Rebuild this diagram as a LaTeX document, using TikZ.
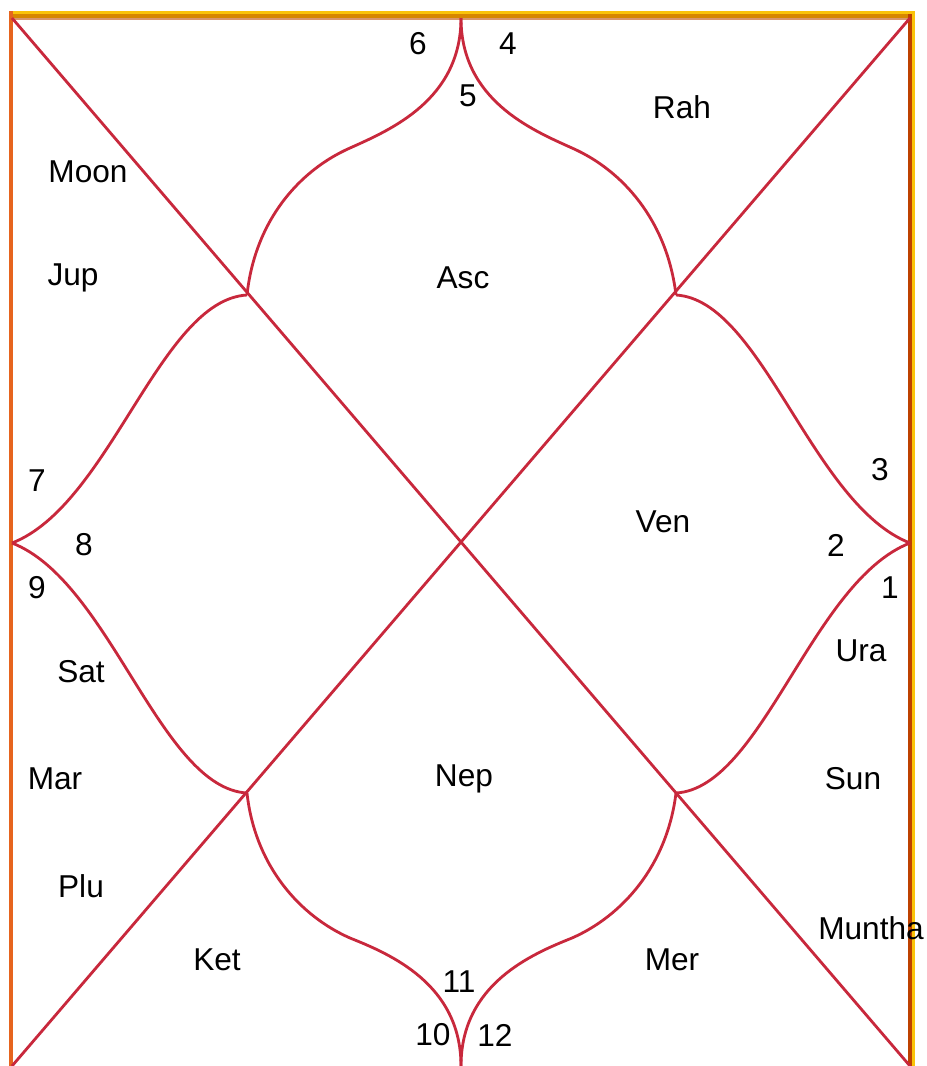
\documentclass[tikz,border=0pt]{standalone}
\usepackage{fontspec}
\setmainfont{Liberation Sans}
\usepackage{xcolor}
\usepackage{tikz}
\usetikzlibrary{positioning, calc}

\definecolor{chartline}{RGB}{200,40,60}
\definecolor{frameyellow}{RGB}{250,195,10}
\definecolor{framegold}{RGB}{215,135,0}
\definecolor{frametan}{RGB}{215,150,110}
\definecolor{frameleft}{RGB}{230,100,30}
\definecolor{frameright}{RGB}{190,65,0}

\tikzset{
  house/.style={chartline, line width=1.6pt},
  sign/.style={inner sep=0pt, font=\fontsize{18}{20}\selectfont},
  planet/.style={inner sep=0pt, font=\fontsize{18}{20}\selectfont}
}

\begin{document}
\begin{tikzpicture}[x=0.02cm, y=-0.02cm]
\useasboundingbox (0,0) rectangle (927,1066);

% frame
\fill[frameyellow] (10,11) rectangle (915,14);
\fill[framegold] (10,14) rectangle (915,18);
\fill[frametan] (13,18) rectangle (908,20);
\fill[frameleft] (9,11) rectangle (13,1066);
\fill[frameright] (908,14) rectangle (912,1066);
\fill[frameyellow] (912,14) rectangle (915,1066);

% corners and mid points
\coordinate (tl) at (12,18);
\coordinate (tr) at (910,18);
\coordinate (bl) at (12,1066);
\coordinate (br) at (910,1066);
\coordinate (tm) at (461,18);
\coordinate (bm) at (461,1066);
\coordinate (lm) at (12,543);
\coordinate (rm) at (910,543);
\coordinate (ul) at (247,295);
\coordinate (ur) at (676,295);
\coordinate (ll) at (247,793);
\coordinate (lr) at (676,793);

% diagonals
\draw[house] (tl) -- (br);
\draw[house] (tr) -- (bl);

% curved houses, top and bottom
\draw[house] (tm) .. controls (461,100) and (390,130) .. (350,148)
  .. controls (300,170) and (255,220) .. (ul);
\draw[house] (tm) .. controls (461,100) and (532,130) .. (572,148)
  .. controls (622,170) and (667,220) .. (ur);
\draw[house] (bm) .. controls (461,984) and (390,954) .. (350,938)
  .. controls (300,916) and (255,866) .. (ll);
\draw[house] (bm) .. controls (461,984) and (532,954) .. (572,938)
  .. controls (622,916) and (667,866) .. (lr);

% curved houses, left and right
\draw[house] (lm) .. controls (110,505) and (160,300) .. (ul);
\draw[house] (lm) .. controls (110,581) and (160,788) .. (ll);
\draw[house] (rm) .. controls (812,505) and (762,300) .. (ur);
\draw[house] (rm) .. controls (812,581) and (762,788) .. (lr);

% sign numbers
\node[sign] (s1) at (890,588) {1};
\node[sign] (s2) at (836,545) {2};
\node[sign] (s3) at (880,470) {3};
\node[sign] (s4) at (508,44) {4};
\node[sign] (s5) at (468,96) {5};
\node[sign] (s6) at (418,44) {6};
\node[sign] (s7) at (37,481) {7};
\node[sign] (s8) at (84,545) {8};
\node[sign] (s9) at (37,588) {9};
\node[sign] (s10) at (433,1035) {10};
\node[sign] (s11) at (459,982) {11};
\node[sign] (s12) at (495,1035) {12};

% planets
\node[planet] (rah) at (682,107) {Rah};
\node[planet] (moon) at (88,172) {Moon};
\node[planet] (jup) at (73,278) {Jup};
\node[planet] (asc) at (463,278) {Asc};
\node[planet] (ven) at (663,522) {Ven};
\node[planet] (ura) at (861,651) {Ura};
\node[planet] (sat) at (81,672) {Sat};
\node[planet] (mar) at (55,779) {Mar};
\node[planet] (nep) at (464,779) {Nep};
\node[planet] (sun) at (853,779) {Sun};
\node[planet] (plu) at (81,886) {Plu};
\node[planet] (muntha) at (871,928) {Muntha};
\node[planet] (ket) at (217,960) {Ket};
\node[planet] (mer) at (672,960) {Mer};
\end{tikzpicture}
\end{document}
